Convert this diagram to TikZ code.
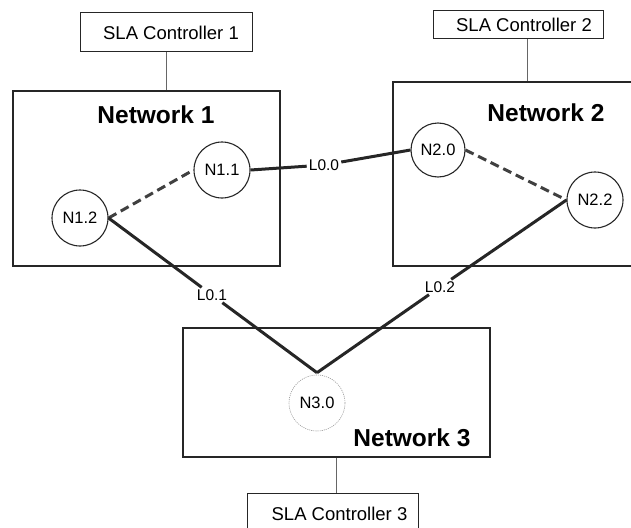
\documentclass[tikz,border=0pt]{standalone}
\usepackage{fontspec}
\setmainfont{Liberation Sans}
\usetikzlibrary{calc}

\begin{document}
\begin{tikzpicture}[x=1pt,y=-1pt,
  netbox/.style={draw=black!85,line width=1.3pt,inner sep=0pt},
  ctlbox/.style={draw=black!85,line width=1pt,inner sep=0pt,font=\fontsize{18.5}{20}\selectfont},
  router/.style={circle,draw=black!85,line width=1.1pt,inner sep=0pt,minimum size=56pt,font=\fontsize{16.5}{18}\selectfont},
  title/.style={font=\fontsize{24.5}{27}\selectfont\bfseries},
  lbl/.style={inner sep=2pt,font=\fontsize{15.5}{17}\selectfont},
  link/.style={draw=black!85,line width=3pt},
  intra/.style={draw=black!75,line width=3pt,dash pattern=on 9pt off 5pt},
  tie/.style={draw=black!60,line width=0.8pt}]

\useasboundingbox (0,0) rectangle (631,527);
\clip (0,0) rectangle (631,527);

% networks
\node[netbox,minimum width=267pt,minimum height=175pt] (net1) at (146.5,178.5) {};
\node[netbox,minimum width=250pt,minimum height=184pt] (net2) at (518,174) {};
\node[netbox,minimum width=307pt,minimum height=129pt] (net3) at (336.5,392.5) {};

\node[title] at (156,115) {Network 1};
\node[title] at (546,113) {Network 2};
\node[title] at (412,438) {Network 3};

% controllers
\node[ctlbox,minimum width=172pt,minimum height=39pt] (ctl1) at (166,32.5) {\hspace*{10pt}SLA Controller 1};
\node[ctlbox,minimum width=170pt,minimum height=28pt] (ctl2) at (518,25) {\hspace*{12pt}SLA Controller 2};
\node[ctlbox,minimum width=171pt,minimum height=42pt] (ctl3) at (332.5,514) {\hspace*{14pt}SLA Controller 3};

\draw[tie] (ctl1.south) -- (ctl1.south |- net1.north);
\draw[tie] ($(ctl2.south)+(9,0)$) -- ($(ctl2.south |- net2.north)+(9,0)$);
\draw[tie] ($(net3.south)+(0,0)$) -- (net3.south |- ctl3.north);

% routers
\node[router] (n11) at (222,170) {N1.1};
\node[router] (n12) at (80,218) {N1.2};
\node[router,minimum size=54pt] (n20) at (438,150) {N2.0};
\node[router] (n22) at (595,200) {N2.2};
\node[router,draw=black!40,densely dotted,line width=0.6pt] (n30) at (317,403) {N3.0};

% inter-network links
\node[lbl] (l00) at (324,165) {L0.0};
\node[lbl] (l01) at (212,295) {L0.1};
\node[lbl] (l02) at (440,287) {L0.2};

\draw[intra] (n12.east) -- (n11.west);
\draw[intra] (n20.east) -- (n22.west);

\draw[link] (n11.east) -- (l00) -- (n20.west);
\draw[link] (n12.east) -- (l01) -- ($(n30.north)+(0,-2)$);
\draw[link] (n22.west) -- (l02) -- ($(n30.north)+(0,-2)$);

\end{tikzpicture}
\end{document}
